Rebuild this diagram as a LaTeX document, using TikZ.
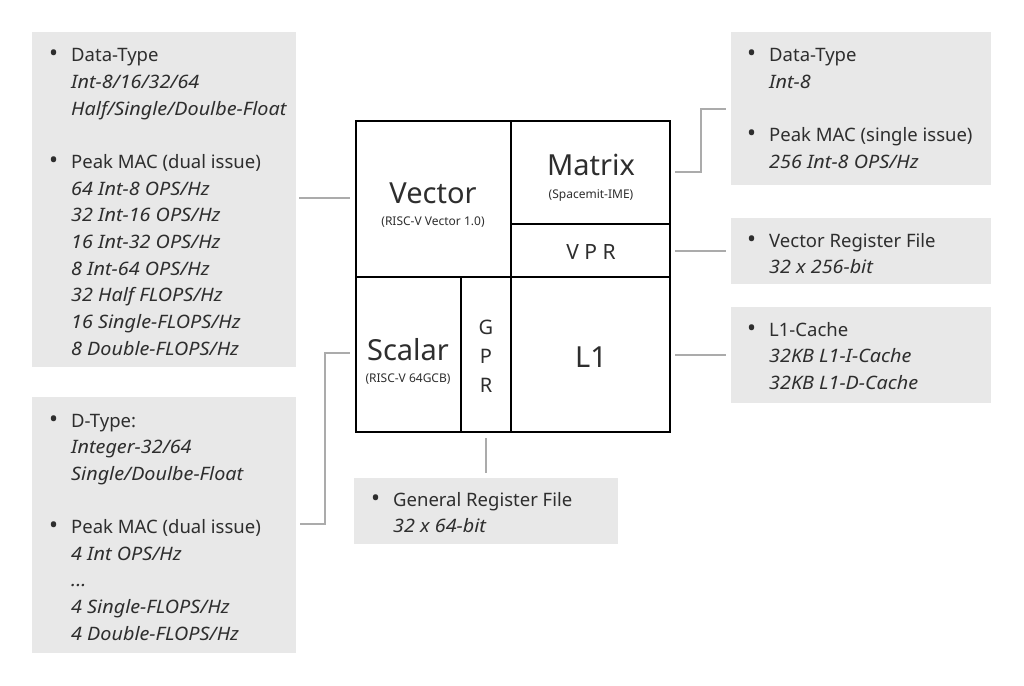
\documentclass[tikz,border=0pt]{standalone}
\usepackage{fontspec}
\setmainfont{Noto Sans}[ItalicFeatures={FakeStretch=1.07}]
\begin{document}
\begin{tikzpicture}[x=1pt,y=-1pt,
  infotext/.style={anchor=base west,inner sep=0pt,text=textgray,font=\fontsize{18.5}{26.65}\selectfont},
  unit/.style={draw=black,line width=1.6pt,fill=white},
  link/.style={draw=linkgray,line width=2pt},
  big/.style={text=textgray,font=\fontsize{29}{32}\selectfont,inner sep=0pt},
  small/.style={text=textgray,font=\fontsize{12}{13}\selectfont,inner sep=0pt}]
\definecolor{boxgray}{HTML}{E8E8E8}
\definecolor{textgray}{HTML}{2E2E2E}
\definecolor{linkgray}{HTML}{ABABAB}
\newcommand{\bl}{\makebox[21pt][l]{\hspace*{-1pt}{\fontsize{24}{24}\selectfont •}}}
\newcommand{\ind}{\hspace*{21pt}}
\newcommand{\lines}[1]{\begin{tabular}[t]{@{}l@{}}#1\end{tabular}}
\useasboundingbox (0,0) rectangle (1024,685);
% info boxes
\fill[boxgray] (32,32) rectangle (296,367);
\fill[boxgray] (32,397) rectangle (296,653);
\fill[boxgray] (731,32) rectangle (991,185);
\fill[boxgray] (731,218) rectangle (991,284);
\fill[boxgray] (731,307) rectangle (991,403);
\fill[boxgray] (354,478) rectangle (618,544);
\node[infotext] (tvec) at (50,62) {\lines{\bl Data-Type\\ \ind\textit{Int-8/16/32/64}\\ \ind\textit{Half/Single/Doulbe-Float}\\ \\
\bl Peak MAC (dual issue)\\ \ind\textit{64 Int-8 OPS/Hz}\\ \ind\textit{32 Int-16 OPS/Hz}\\ \ind\textit{16 Int-32 OPS/Hz}\\ \ind\textit{8 Int-64 OPS/Hz}\\ \ind\textit{32 Half FLOPS/Hz}\\ \ind\textit{16 Single-FLOPS/Hz}\\ \ind\textit{8 Double-FLOPS/Hz}}};
\node[infotext] (tsca) at (50,427) {\lines{\bl D-Type:\\ \ind\textit{Integer-32/64}\\ \ind\textit{Single/Doulbe-Float}\\ \\
\bl Peak MAC (dual issue)\\ \ind\textit{4 Int OPS/Hz}\\ \ind\textit{...}\\ \ind\textit{4 Single-FLOPS/Hz}\\ \ind\textit{4 Double-FLOPS/Hz}}};
\node[infotext] (tmat) at (748,62) {\lines{\bl Data-Type\\ \ind\textit{Int-8}\\ \\
\bl Peak MAC (single issue)\\ \ind\textit{256 Int-8 OPS/Hz}}};
\node[infotext] (tvpr) at (748,247) {\lines{\bl Vector Register File\\ \ind\textit{32 x 256-bit}}};
\node[infotext] (tl1) at (748,336) {\lines{\bl L1-Cache\\ \ind\textit{32KB L1-I-Cache}\\ \ind\textit{32KB L1-D-Cache}}};
\node[infotext] (tgpr) at (372,506) {\lines{\bl General Register File\\ \ind\textit{32 x 64-bit}}};
% central block
\draw[unit] (356,121) rectangle (511,277);
\draw[unit] (511,121) rectangle (670,224);
\draw[unit] (511,224) rectangle (670,277);
\draw[unit] (356,277) rectangle (461,432);
\draw[unit] (461,277) rectangle (511,432);
\draw[unit] (511,277) rectangle (670,432);
\node[big] (vector) at (433,193) {Vector};
\node[small] (vectorsub) at (433,222) {(RISC-V Vector 1.0)};
\node[big] (matrix) at (591,165) {Matrix};
\node[small] (matrixsub) at (591,196) {(Spacemit-IME)};
\node[text=textgray,font=\fontsize{21}{22}\selectfont,inner sep=0pt] (vpr) at (591,252) {V P R};
\node[big] (scalar) at (408,350) {Scalar};
\node[small] (scalarsub) at (408,379) {(RISC-V 64GCB)};
\node[text=textgray,font=\fontsize{20}{29}\selectfont,inner sep=0pt,align=center] (gpr) at (486,356) {G\\P\\R};
\node[big] (l1) at (591,357) {L1};
% connectors
\coordinate (a1) at (299,198); \coordinate (a2) at (350,198);
\draw[link] (a1) -- (a2);
\coordinate (b1) at (300,524); \coordinate (b2) at (325,524); \coordinate (b3) at (325,353); \coordinate (b4) at (350,353);
\draw[link] (b1) -- (b2) -- (b3) -- (b4);
\coordinate (c1) at (675,172); \coordinate (c2) at (701,172); \coordinate (c3) at (701,109); \coordinate (c4) at (726,109);
\draw[link] (c1) -- (c2) -- (c3) -- (c4);
\coordinate (d1) at (675,251); \coordinate (d2) at (726,251);
\draw[link] (d1) -- (d2);
\coordinate (e1) at (675,355); \coordinate (e2) at (726,355);
\draw[link] (e1) -- (e2);
\coordinate (f1) at (486,438); \coordinate (f2) at (486,473);
\draw[link] (f1) -- (f2);
\end{tikzpicture}
\end{document}
